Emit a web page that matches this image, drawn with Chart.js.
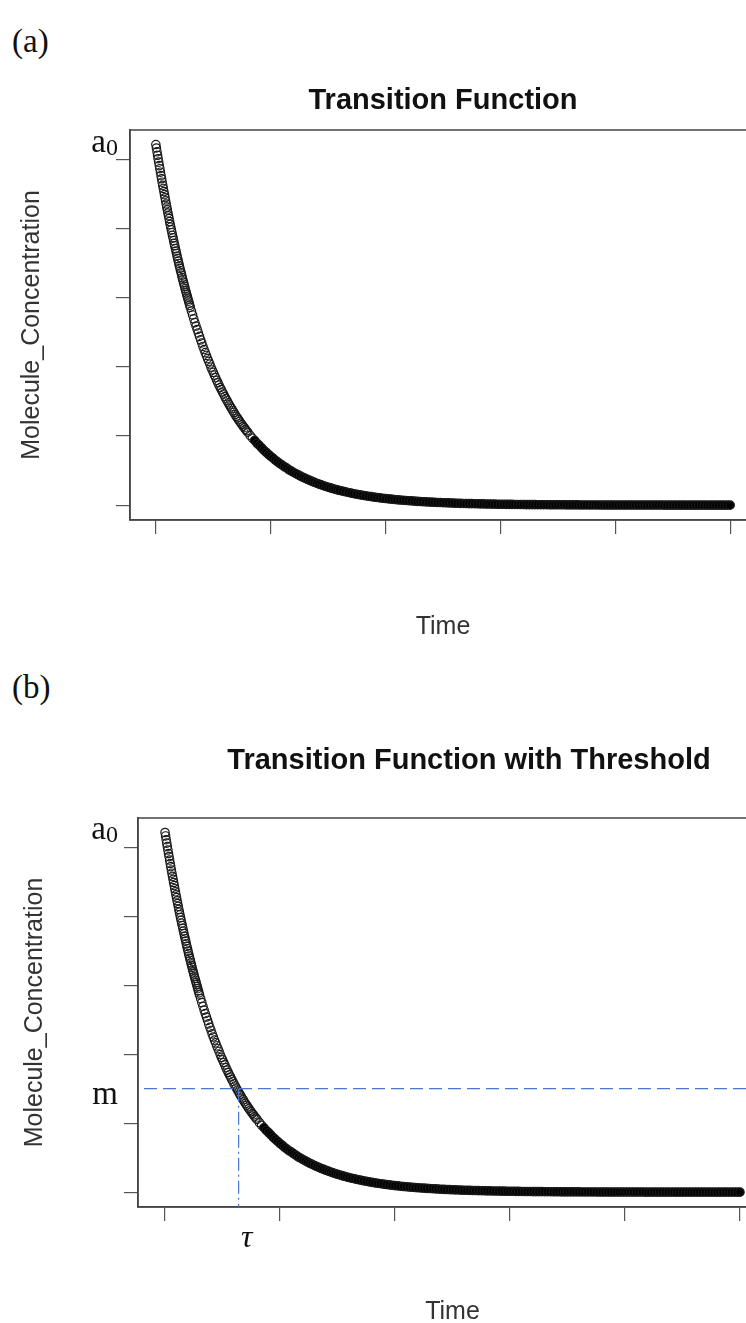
<!DOCTYPE html>
<html>
<head>
<meta charset="utf-8">
<script src="https://cdn.jsdelivr.net/npm/chart.js@4"></script>
<style>
  html, body { margin: 0; padding: 0; background: #fff; }
  body { width: 746px; height: 1323px; overflow: hidden; position: relative; }
  .panel { position: absolute; left: 0; }
  .tag { position: absolute; left: 12px; font: 33px/33px "Liberation Serif", "DejaVu Serif", serif; color: #111; }
</style>
</head>
<body>
<div class="tag" style="top:25px">(a)</div>
<div class="tag" style="top:671px">(b)</div>
<canvas id="chartA" class="panel" style="top:0" width="770" height="650"></canvas>
<canvas id="chartB" class="panel" style="top:650px" width="780" height="673"></canvas>
<script>
// concentration; each block has its own time spacing
const steepConc = [ // t = 0..60, every 1
  10.43,10.33,10.22,10.12,10.02,9.92,9.82,9.73,9.63,9.53,
  9.44,9.34,9.25,9.16,9.07,8.98,8.89,8.80,8.71,8.62,
  8.54,8.45,8.37,8.29,8.20,8.12,8.04,7.96,7.88,7.80,
  7.73,7.65,7.57,7.50,7.42,7.35,7.28,7.20,7.13,7.06,
  6.99,6.92,6.85,6.78,6.72,6.65,6.58,6.52,6.45,6.39,
  6.33,6.26,6.20,6.14,6.08,6.02,5.96,5.90,5.84,5.78,
  5.72]
const midConc = [ // t = 62..160, every 2
  5.61,5.50,5.39,5.28,5.18,5.08,4.98,4.88,4.78,4.69,
  4.59,4.50,4.41,4.33,4.24,4.16,4.08,3.99,3.91,3.84,
  3.76,3.69,3.61,3.54,3.47,3.40,3.34,3.27,3.21,3.14,
  3.08,3.02,2.96,2.90,2.84,2.79,2.73,2.68,2.62,2.57,
  2.52,2.47,2.42,2.37,2.33,2.28,2.24,2.19,2.15,2.11]
const lateConc = [ // t = 164..320, every 4
  2.02,1.94,1.87,1.79,1.73,1.66,1.59,1.53,1.47,1.41,
  1.36,1.30,1.25,1.20,1.16,1.11,1.07,1.02,0.985,0.946,
  0.909,0.874,0.838,0.806,0.775,0.744,0.716,0.686,0.660,0.635,
  0.609,0.586,0.562,0.540,0.519,0.499,0.480,0.460,0.442,0.425]
const tailConc = [ // t = 325..1000, every 5
  0.404,0.385,0.366,0.348,0.331,0.315,0.300,0.285,0.271,0.258,
  0.245,0.233,0.222,0.211,0.201,0.191,0.182,0.173,0.164,0.156,
  0.149,0.142,0.135,0.128,0.122,0.116,0.110,0.105,0.100,0.095,
  0.090,0.086,0.082,0.078,0.074,0.070,0.067,0.064,0.060,0.057,
  0.055,0.052,0.049,0.047,0.045,0.043,0.041,0.039,0.037,0.035,
  0.033,0.032,0.030,0.029,0.027,0.026,0.025,0.023,0.022,0.021,
  0.020,0.019,0.018,0.017,0.016,0.016,0.015,0.014,0.013,0.013,
  0.012,0.012,0.011,0.010,0.010,0.010,0.009,0.009,0.008,0.008,
  0.007,0.007,0.007,0.006,0.006,0.006,0.005,0.005,0.005,0.005,
  0.004,0.004,0.004,0.004,0.004,0.003,0.003,0.003,0.003,0.003,
  0.003,0.003,0.002,0.002,0.002,0.002,0.002,0.002,0.002,0.002,
  0.002,0.002,0.001,0.001,0.001,0.001,0.001,0.001,0.001,0.001,
  0.001,0.001,0.001,0.001,0.001,0.001,0.001,0.001,0.001,0.001,
  0.001,0.001,0.001,0.001,0.001,0.000]
const segStart = [0, 62, 164, 325]
const segStep = [1, 2, 4, 5]

const xTicks = [0, 200, 400, 600, 800, 1000]
const yTicks = [0, 2, 4, 6, 8, 10]
const a0 = 10.43
const threshold = 3.0   // m
const tau = 128

const points = []
;[steepConc, midConc, lateConc, tailConc].forEach((arr, s) => {
  arr.forEach((v, i) => points.push({x: segStart[s] + i * segStep[s], y: v}))
})

const SANS = '"Liberation Sans", Arial, sans-serif'
const SERIF = '"Liberation Serif", "Times New Roman", serif'

const rFrame = {
  id: 'rFrame',
  afterDraw(chart, args, o) {
    const {ctx, chartArea: a, scales: {x, y}} = chart
    ctx.save()
    ctx.strokeStyle = '#444'
    ctx.lineWidth = 1.5
    ctx.strokeRect(a.left, a.top, a.right - a.left, a.bottom - a.top)

    // main title
    ctx.fillStyle = '#111'
    ctx.textAlign = 'center'
    ctx.textBaseline = 'middle'
    ctx.font = 'bold 29px ' + SANS
    ctx.fillText(o.title, o.titleX, o.titleY)
    ctx.textBaseline = 'alphabetic'

    if (o.threshold) {
      const ym = y.getPixelForValue(threshold)
      const xt = x.getPixelForValue(tau)
      ctx.strokeStyle = '#4a78d0'
      ctx.lineWidth = 1.2
      ctx.setLineDash([13, 6])
      ctx.lineDashOffset = 13
      ctx.beginPath(); ctx.moveTo(a.left, ym); ctx.lineTo(a.right, ym); ctx.stroke()
      ctx.setLineDash([13, 4, 2, 4])
      ctx.lineDashOffset = 0
      ctx.beginPath(); ctx.moveTo(xt, ym); ctx.lineTo(xt, a.bottom); ctx.stroke()
      ctx.setLineDash([])
      ctx.fillStyle = '#111'
      ctx.textAlign = 'right'
      ctx.font = '33px ' + SERIF
      ctx.fillText('m', o.labelRight, ym + 15)
      ctx.textAlign = 'center'
      ctx.font = 'italic 32px ' + SERIF
      ctx.fillText('τ', xt + 8, a.bottom + 40)
    }

    // a0 label on the left margin
    ctx.fillStyle = '#111'
    ctx.textAlign = 'right'
    const ya = y.getPixelForValue(a0) + 7
    ctx.font = '24px ' + SERIF
    ctx.fillText('0', o.labelRight, ya + 3)
    const w0 = ctx.measureText('0').width
    ctx.font = '33px ' + SERIF
    ctx.fillText('a', o.labelRight - w0, ya)
    ctx.restore()
  }
}

function makeChart(id, cfg) {
  const canvas = document.getElementById(id)
  const H = canvas.height, W = canvas.width
  return new Chart(canvas, {
    type: 'scatter',
    data: {
      datasets: [{
        data: points,
        showLine: false,
        pointRadius: 4.2,
        pointHoverRadius: 4.2,
        pointBorderWidth: 1.2,
        pointBorderColor: '#1a1a1a',
        pointBackgroundColor: c => (c.raw && c.raw.x >= 170) ? '#000' : 'rgba(0,0,0,0)'
      }]
    },
    options: {
      responsive: false,
      animation: false,
      events: [],
      layout: {padding: {left: 0, top: cfg.top, bottom: 0, right: W - cfg.right}},
      plugins: {
        legend: {display: false},
        tooltip: {enabled: false},
        title: {display: false},
        rFrame: {threshold: cfg.threshold, labelRight: 118, title: cfg.title, titleX: cfg.titleX, titleY: cfg.titleY}
      },
      scales: {
        x: {
          type: 'linear',
          min: cfg.xmin, max: cfg.xmax,
          afterBuildTicks: s => { s.ticks = xTicks.map(v => ({value: v})) },
          afterFit: s => { s.height = H - cfg.bottom },
          ticks: {display: false},
          grid: {display: true, drawOnChartArea: false, drawTicks: true, tickLength: 14, color: '#555', lineWidth: 1.2},
          border: {display: true, color: '#444', width: 1.5},
          title: {display: true, text: 'Time', color: '#333', font: {family: SANS, size: 25, lineHeight: 1.2}, padding: {top: 0, bottom: cfg.timePad}}
        },
        y: {
          type: 'linear',
          min: -0.43, max: 10.85,
          afterBuildTicks: s => { s.ticks = yTicks.map(v => ({value: v})) },
          afterFit: s => { s.width = cfg.left },
          ticks: {display: false},
          grid: {display: true, drawOnChartArea: false, drawTicks: true, tickLength: 14, color: '#555', lineWidth: 1.2},
          border: {display: true, color: '#444', width: 1.5},
          title: {display: true, text: 'Molecule_Concentration', color: '#333', font: {family: SANS, size: 25, lineHeight: 1.2}, padding: {top: cfg.ylabPad, bottom: 0}}
        }
      }
    },
    plugins: [rFrame]
  })
}

makeChart('chartA', {title: 'Transition Function', titleX: 443, titleY: 101, left: 130, top: 130, right: 756, bottom: 520,
  timePad: 8, ylabPad: 17, xmin: -45, xmax: 1045, threshold: false})
makeChart('chartB', {title: 'Transition Function with Threshold', titleX: 469, titleY: 111, left: 138, top: 168, right: 767, bottom: 557,
  timePad: -4, ylabPad: 20, xmin: -47, xmax: 1047, threshold: true})
</script>
</body>
</html>
